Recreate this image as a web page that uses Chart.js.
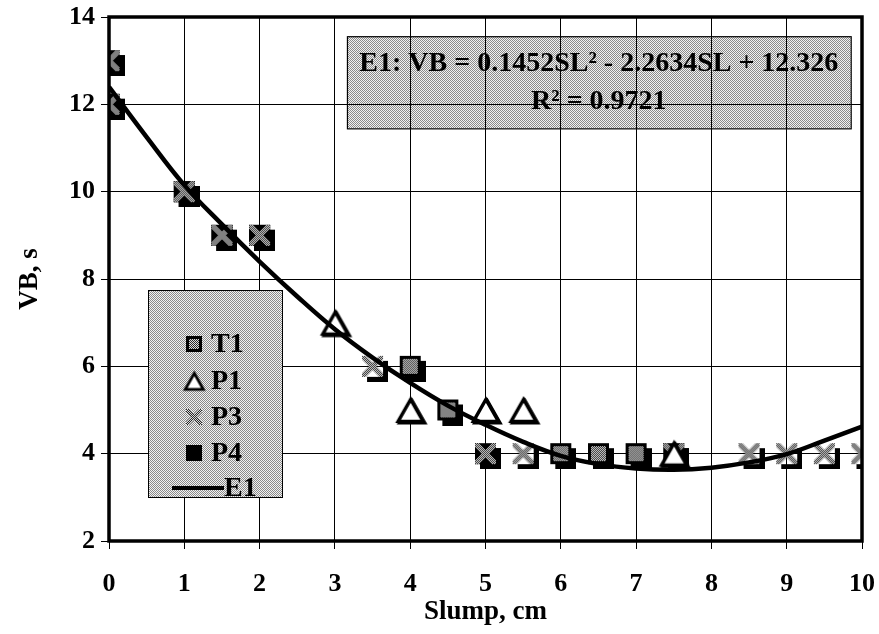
<!DOCTYPE html>
<html>
<head>
<meta charset="utf-8">
<script src="https://cdn.jsdelivr.net/npm/chart.js@4/dist/chart.umd.min.js"></script>
<style>
  html, body { margin: 0; padding: 0; background: #fff; overflow: hidden; }
</style>
</head>
<body>
<canvas id="c" width="879" height="634"></canvas>
<script>
// ---- measured data: VB time (s) against slump (cm) ----
const slumpT1 = [0, 1, 1.5, 2, 4, 4.5, 6, 6.5, 7];
const vbT1    = [12, 10, 9, 9, 6, 5, 4, 4, 4];

const slumpP1 = [3, 4, 5, 5.5, 7.5];
const vbP1    = [7, 5, 5, 5, 4];

const slumpP3 = [0, 0, 1, 1.5, 2, 3.5, 5, 5.5, 7.5, 8.5, 9, 9.5, 10];
const vbP3    = [13, 12, 10, 9, 9, 6, 4, 4, 4, 4, 4, 4, 4];

const slumpP4 = [0, 0, 1, 1.5, 2, 5, 7.5];
const vbP4    = [13, 12, 10, 9, 9, 4, 4];

// ---- fitted trend E1, sampled along the slump range ----
const fitSlump = [0, 0.5, 1, 1.5, 2, 2.5, 3, 3.5, 4, 4.5, 5, 5.5, 6, 6.5, 7, 7.5, 8, 8.5, 9, 9.5, 10];
const fitVB    = [12.4, 11.25, 10.15, 9.25, 8.4, 7.6, 6.85, 6.2, 5.62, 5.1, 4.66, 4.27, 3.95, 3.76, 3.66, 3.63, 3.68, 3.8, 3.99, 4.3, 4.62];

// ---- axis ticks and annotation text ----
const xTickValues = [0, 1, 2, 3, 4, 5, 6, 7, 8, 9, 10];
const yTickValues = [2, 4, 6, 8, 10, 12, 14];
const equationLine = 'E1: VB = 0.1452SL\u00B2 - 2.2634SL + 12.326';
const r2Line = 'R\u00B2 = 0.9721';
const legendNames = ['T1', 'P1', 'P3', 'P4', 'E1'];

const FONT = '"Liberation Serif", "Times New Roman", serif';

function pts(xs, ys) { return xs.map((x, i) => ({ x: x, y: ys[i] })); }
function mk(w, h) { const c = document.createElement('canvas'); c.width = w; c.height = h; return c; }

// fine halftone pattern
function halftone(ctx, dark, light) {
  const p = mk(2, 2), g = p.getContext('2d');
  g.fillStyle = light; g.fillRect(0, 0, 2, 2);
  g.fillStyle = dark; g.fillRect(0, 0, 1, 1); g.fillRect(1, 1, 1, 1);
  return ctx.createPattern(p, 'repeat');
}

// ---- marker images ----
const B = 21, OFF = 5;
function markerT1(body, off, withShadow) {
  const s = body + 2 * off, c = mk(s, s), g = c.getContext('2d');
  const o = off;
  if (withShadow) { g.fillStyle = '#000'; g.fillRect(o + off, o + off, body, body); }
  g.fillStyle = '#000'; g.fillRect(o, o, body, body);
  g.fillStyle = halftone(g, '#2a2a2a', '#dcdcdc');
  g.fillRect(o + 3, o + 3, body - 6, body - 6);
  return c;
}
function markerP4(body, off, withShadow) {
  const s = body + 2 * off, c = mk(s, s), g = c.getContext('2d');
  g.fillStyle = '#000';
  if (withShadow) g.fillRect(off * 2, off * 2, body, body);
  g.fillRect(off, off, body, body);
  return c;
}
// hatched cross on a see-through body, shadow only outside the body
function markerP3(body, off, withShadow) {
  const s = body + 2 * off, c = mk(s, s), g = c.getContext('2d');
  if (withShadow) {
    g.fillStyle = '#000'; g.fillRect(off * 2, off * 2, body, body);
    g.clearRect(off, off, body, body);
  }
  g.save();
  g.beginPath(); g.rect(off, off, body, body); g.clip();
  g.strokeStyle = halftone(g, '#2a2a2a', '#d8d8d8');
  g.lineWidth = Math.max(3, body * 0.26);
  g.beginPath();
  g.moveTo(off, off); g.lineTo(off + body, off + body);
  g.moveTo(off + body, off); g.lineTo(off, off + body);
  g.stroke();
  g.restore();
  return c;
}
function markerP1(w, h, lw, withShadow) {
  const pad = lw + 3, c = mk(w + 2 * pad, h + 2 * pad), g = c.getContext('2d');
  const path = (dx, dy) => {
    g.beginPath();
    g.moveTo(pad + w / 2 + dx, pad + dy);
    g.lineTo(pad + w + dx, pad + h + dy);
    g.lineTo(pad + dx, pad + h + dy);
    g.closePath();
  };
  g.lineJoin = 'miter';
  if (withShadow) { path(1.5, 1.5); g.lineWidth = lw; g.strokeStyle = '#000'; g.stroke(); }
  path(0, 0); g.fillStyle = '#fff'; g.fill();
  g.lineWidth = lw; g.strokeStyle = '#000'; g.stroke();
  return c;
}

const ctx = document.getElementById('c').getContext('2d');

const imgT1 = markerT1(B, OFF, true);
const imgP4 = markerP4(B, OFF, true);
const imgP3 = markerP3(B, OFF, true);
const imgP1 = markerP1(25, 22, 3.4, true);

// ---- decorations: frame, equation box, key ----
const EQ = { x0: 3.16, x1: 9.85, y0: 13.56, y1: 11.45 };
const decor = {
  id: 'decor',
  beforeDraw(chart) {
    const g = chart.ctx, xs = chart.scales.x, ys = chart.scales.y;
    // equation box sits behind the grid
    const x0 = xs.getPixelForValue(EQ.x0), x1 = xs.getPixelForValue(EQ.x1);
    const y0 = ys.getPixelForValue(EQ.y0), y1 = ys.getPixelForValue(EQ.y1);
    g.save();
    g.fillStyle = halftone(g, '#8a8a8a', '#f2f2f2');
    g.fillRect(x0, y0, x1 - x0, y1 - y0);
    g.strokeStyle = '#000'; g.lineWidth = 1.2;
    g.strokeRect(x0 + 0.5, y0 + 0.5, x1 - x0, y1 - y0);
    g.restore();
  },
  afterDatasetsDraw(chart) {
    const g = chart.ctx, xs = chart.scales.x, ys = chart.scales.y;
    // equation text
    const cx = (xs.getPixelForValue(EQ.x0) + xs.getPixelForValue(EQ.x1)) / 2;
    g.save();
    g.fillStyle = '#000';
    g.font = 'bold 28px ' + FONT;
    g.textAlign = 'center'; g.textBaseline = 'middle';
    g.fillText(equationLine, cx, ys.getPixelForValue(12.93));
    g.fillText(r2Line, cx, ys.getPixelForValue(12.05));
    g.restore();

    // key box
    const lx0 = 148, lx1 = 282, ly0 = 290, ly1 = 497;
    g.save();
    g.fillStyle = halftone(g, '#8a8a8a', '#f2f2f2');
    g.fillRect(lx0, ly0, lx1 - lx0, ly1 - ly0);
    g.strokeStyle = '#000'; g.lineWidth = 1;
    g.strokeRect(lx0 + 0.5, ly0 + 0.5, lx1 - lx0, ly1 - ly0);
    const rows = [344, 381, 417, 453, 488];
    const icons = [markerT1(16, 0, false), markerP1(18, 16, 2.8, false), markerP3(16, 0, false), markerP4(16, 0, false)];
    icons.forEach((im, i) => g.drawImage(im, 194 - im.width / 2, rows[i] - im.height / 2));
    g.fillStyle = '#000';
    g.fillRect(172, rows[4] - 2, 52, 4);
    g.font = 'bold 28px ' + FONT;
    g.textAlign = 'left'; g.textBaseline = 'middle';
    legendNames.forEach((n, i) => g.fillText(n, i === 4 ? 224 : 211, rows[i] + 1));
    g.restore();
  },
  afterDraw(chart) {
    const g = chart.ctx, a = chart.chartArea;
    g.save();
    g.strokeStyle = '#000'; g.lineWidth = 3.5;
    g.strokeRect(a.left, a.top, a.right - a.left, a.bottom - a.top);
    g.restore();
  }
};

const tickFont = { family: FONT, size: 26, weight: 'bold' };
const titleFont = { family: FONT, size: 27, weight: 'bold' };

new Chart(ctx, {
  type: 'scatter',
  data: {
    datasets: [
      { label: 'E1', type: 'line', data: pts(fitSlump, fitVB), borderColor: '#000', borderWidth: 4.5,
        pointRadius: 0, tension: 0.4, fill: false, order: 0 },
      { label: 'P1', data: pts(slumpP1, vbP1), pointStyle: imgP1, pointRadius: 10, order: 1 },
      { label: 'P3', data: pts(slumpP3, vbP3), pointStyle: imgP3, pointRadius: 10, order: 2 },
      { label: 'P4', data: pts(slumpP4, vbP4), pointStyle: imgP4, pointRadius: 10, order: 3 },
      { label: 'T1', data: pts(slumpT1, vbT1), pointStyle: imgT1, pointRadius: 10, order: 4 }
    ]
  },
  options: {
    responsive: false,
    animation: false,
    events: [],
    layout: { padding: { top: 17, right: 17, left: 0, bottom: 0 } },
    plugins: { legend: { display: false }, tooltip: { enabled: false } },
    scales: {
      x: {
        type: 'linear', min: 0, max: 10,
        afterBuildTicks(s) { s.ticks = xTickValues.map(v => ({ value: v })); },
        afterFit(s) { s.height = 93; s.paddingLeft = 0; s.paddingRight = 0; },
        ticks: { color: '#000', font: tickFont, padding: 20, maxRotation: 0, autoSkip: false },
        grid: { color: '#000', lineWidth: 1, tickLength: 8, tickColor: '#000' },
        border: { display: false },
        title: { display: true, text: 'Slump, cm', color: '#000', font: titleFont, padding: { top: 0, bottom: 6 } }
      },
      y: {
        type: 'linear', min: 2, max: 14,
        afterBuildTicks(s) { s.ticks = yTickValues.map(v => ({ value: v })); },
        afterFit(s) { s.width = 109; s.paddingTop = 0; s.paddingBottom = 0; },
        ticks: { color: '#000', font: tickFont, padding: 6 },
        grid: { color: '#000', lineWidth: 1, tickLength: 8, tickColor: '#000' },
        border: { display: false },
        title: { display: true, text: 'VB, s', color: '#000', font: titleFont, padding: { top: 14, bottom: 0 } }
      }
    }
  },
  plugins: [decor]
});
</script>
</body>
</html>
